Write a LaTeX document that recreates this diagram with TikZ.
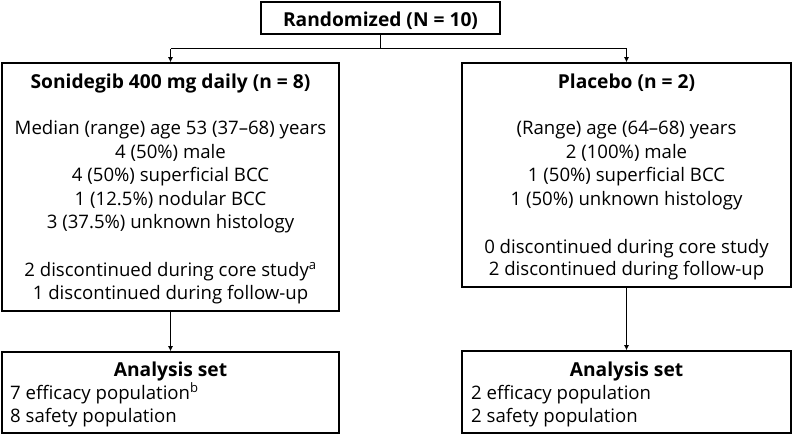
\documentclass[tikz,border=0pt]{standalone}
\usepackage{fontspec}
\setmainfont{Open Sans}
\usetikzlibrary{arrows.meta}
\tikzset{
  box/.style={draw, line width=1.6pt, rectangle, inner sep=0pt},
  txt/.style={inner sep=0pt, anchor=base, font=\fontsize{18.6}{22}\selectfont},
  ttl/.style={txt, font=\fontsize{19.2}{22}\selectfont\bfseries},
  lnk/.style={line width=0.8pt},
  arr/.style={lnk, -{Latex[length=5pt,width=5pt]}}
}
\begin{document}
\begin{tikzpicture}[x=1pt,y=-1pt]
\useasboundingbox (0,0) rectangle (793,434);
% boxes
\node[box, minimum width=239, minimum height=32] (rand) at (380.5,18) {};
\node[box, minimum width=337, minimum height=248] (sg) at (170.5,187) {};
\node[box, minimum width=329, minimum height=224] (pl) at (626.5,175) {};
\node[box, minimum width=337, minimum height=81] (sga) at (170.5,392.5) {};
\node[box, minimum width=329, minimum height=82] (pla) at (626.5,392) {};
% texts
\node[ttl] (t0) at (380.5,26) {Randomized (N = 10)};
\node[ttl] (t1) at (170.5,88) {Sonidegib 400 mg daily (n = 8)};
\node[txt] (t2) at (170.5,134) {Median (range) age 53 (37–68) years};
\node[txt] (t3) at (170.5,158) {4 (50\%) male};
\node[txt] (t4) at (170.5,181) {4 (50\%) superficial BCC};
\node[txt] (t5) at (170.5,205) {1 (12.5\%) nodular BCC};
\node[txt] (t6) at (170.5,228) {3 (37.5\%) unknown histology};
\node[txt] (t7) at (170.5,276) {2 discontinued during core study\textsuperscript{a}};
\node[txt] (t8) at (170.5,299) {1 discontinued during follow-up};
\node[ttl] (p1) at (626.5,88) {Placebo (n = 2)};
\node[txt] (p2) at (626.5,134) {(Range) age (64–68) years};
\node[txt] (p3) at (626.5,158) {2 (100\%) male};
\node[txt] (p4) at (626.5,181) {1 (50\%) superficial BCC};
\node[txt] (p5) at (626.5,205) {1 (50\%) unknown histology};
\node[txt] (p6) at (626.5,253) {0 discontinued during core study};
\node[txt] (p7) at (626.5,275) {2 discontinued during follow-up};
\node[ttl] (a1) at (170.5,376) {Analysis set};
\node[txt, anchor=base west] (a2) at (10,399) {7 efficacy population\textsuperscript{b}};
\node[txt, anchor=base west] (a3) at (10,422) {8 safety population};
\node[ttl] (b1) at (626.5,376) {Analysis set};
\node[txt, anchor=base west] (b2) at (471,399) {2 efficacy population};
\node[txt, anchor=base west] (b3) at (471,422) {2 safety population};
% connectors
\draw[lnk] (rand.south) -- ++(0,14) coordinate (j);
\draw[lnk] (j -| sg.north) -- (j -| pl.north);
\draw[arr] (j -| sg.north) -- (sg.north);
\draw[arr] (j -| pl.north) -- (pl.north);
\draw[arr] (sg.south) -- (sga.north);
\draw[arr] (pl.south) -- (pla.north);
\end{tikzpicture}
\end{document}
